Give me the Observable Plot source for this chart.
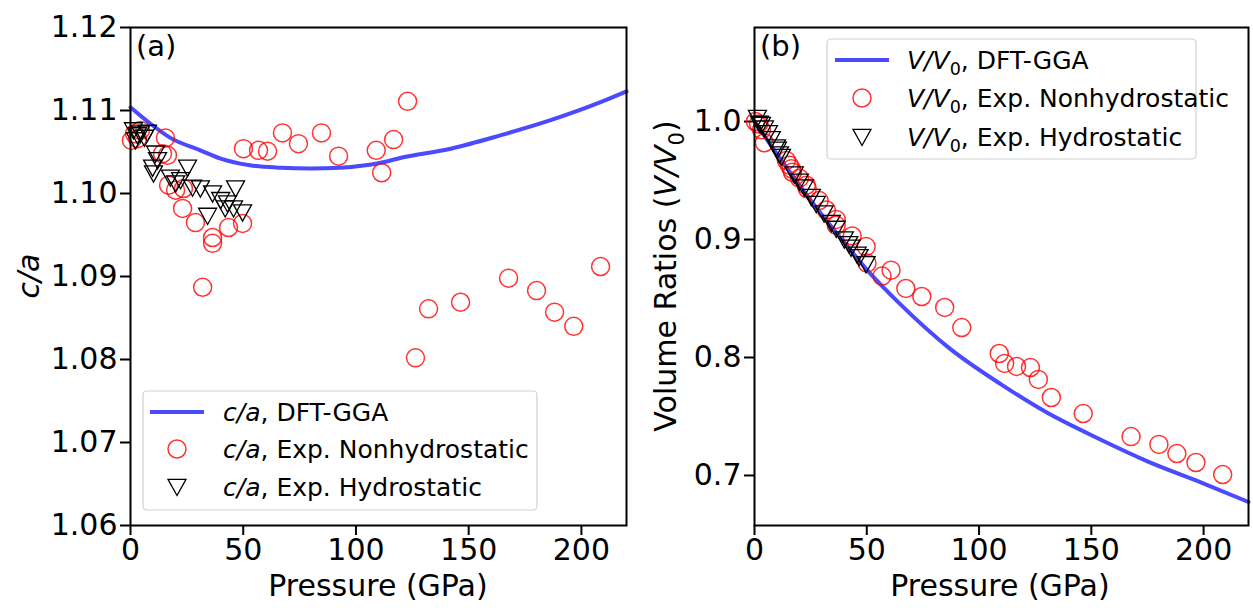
<!DOCTYPE html>
<html>
<head>
<meta charset="utf-8">
<script src="https://cdn.jsdelivr.net/npm/d3@7"></script>
<script src="https://cdn.jsdelivr.net/npm/@observablehq/plot@0.6"></script>
<style>
  html, body { margin: 0; padding: 0; background: #fff; }
  #wrap { display: flex; width: 1253px; height: 608px; font-family: "DejaVu Sans", sans-serif; }
  svg { font-family: "DejaVu Sans", sans-serif; }
</style>
</head>
<body>
<div id="wrap"></div>
<script>
// ---------- data ----------
// DFT-GGA c/a curve
const dftCaP = [0, 8.9, 17.7, 31, 40, 53, 66.5, 80, 93, 111, 120, 142, 164, 186, 208.5, 220];
const dftCa  = [1.1104, 1.1084, 1.1067, 1.1052, 1.1042, 1.1034, 1.1031, 1.1030, 1.1031, 1.1037, 1.1043, 1.1054, 1.1070, 1.1088, 1.1110, 1.1123];
// DFT-GGA V/V0 curve
const dftVP = [0, 10, 20, 30, 40, 50, 65, 87, 110, 130, 154, 175, 199, 220];
const dftV  = [1.0, 0.9725, 0.946, 0.921, 0.8975, 0.8745, 0.845, 0.8075, 0.777, 0.7535, 0.7305, 0.712, 0.694, 0.6775];
// Experimental, nonhydrostatic
const nonhydroP  = [0.4, 1.8, 3.1, 4.4, 14.2, 15.5, 16.4, 16.9, 20, 23.1, 23.5, 28.8, 32, 36.4, 36.4, 43.5, 49.7, 50.1, 56.8, 60.8, 67.4, 74.5, 84.7, 92.3, 109, 111.4, 116.7, 122.9, 126.4, 132.2, 146.4, 167.7, 180.1, 188.1, 196.6, 208.5];
const nonhydroCa = [1.1064, 1.1072, 1.1066, 1.1076, 1.1048, 1.1067, 1.1046, 1.1010, 1.1004, 1.0982, 1.1006, 1.0965, 1.0887, 1.0947, 1.0940, 1.0959, 1.0964, 1.1054, 1.1052, 1.1051, 1.1073, 1.1060, 1.1073, 1.1045, 1.1052, 1.1025, 1.1065, 1.1111, 1.0802, 1.0861, 1.0869, 1.0898, 1.0883, 1.0857, 1.0840, 1.0912];
const nonhydroV  = [1.0, 0.998, 0.993, 0.982, 0.967, 0.963, 0.960, 0.957, 0.952, 0.946, 0.943, 0.933, 0.925, 0.917, 0.912, 0.903, 0.894, 0.880, 0.869, 0.874, 0.8585, 0.8517, 0.8424, 0.8254, 0.8034, 0.795, 0.7924, 0.7915, 0.7814, 0.7661, 0.7525, 0.733, 0.7263, 0.7186, 0.711, 0.7008];
// Experimental, hydrostatic
const hydroP  = [1.3, 2.2, 3.1, 4.4, 6.2, 7.5, 9.8, 10.2, 11.1, 12, 17.7, 20, 22.2, 25.3, 27.5, 31, 34.2, 36.4, 40, 42, 43, 45.7, 46.6, 49.7];
const hydroCa = [1.1076, 1.1064, 1.1070, 1.1072, 1.1067, 1.1073, 1.1031, 1.1024, 1.1048, 1.1040, 1.1019, 1.1012, 1.1016, 1.1031, 1.1007, 1.1006, 1.0973, 1.1000, 1.0992, 1.0982, 1.0988, 1.0982, 1.1006, 1.0977];
const hydroV  = [1.003, 0.998, 0.997, 0.994, 0.990, 0.985, 0.978, 0.976, 0.972, 0.970, 0.955, 0.949, 0.944, 0.936, 0.930, 0.922, 0.914, 0.909, 0.900, 0.896, 0.893, 0.887, 0.885, 0.879];
// tick labels
const xTicks = [0, 50, 100, 150, 200];
const caTicks = [1.06, 1.07, 1.08, 1.09, 1.10, 1.11, 1.12];
const vTicks = [0.7, 0.8, 0.9, 1.0];

// ---------- styles ----------
const BLUE = "#4a4aff", RED = "#ff0000";
const FONT = "DejaVu Sans";
const TICKFS = 30, LABELFS = 30, LEGFS = 25;
const triDown = {
  draw(ctx, size) {
    const r = Math.sqrt(size / Math.PI);
    ctx.moveTo(-r, -r * 0.85);
    ctx.lineTo(r, -r * 0.85);
    ctx.lineTo(0, r * 0.95);
    ctx.closePath();
  }
};

function zip(xs, ys) { return xs.map((x, i) => ({x, y: ys[i]})); }

function makePanel({width, marginLeft, marginRight, yDomain, yTicks, yFormat, line, nh, h}) {
  return Plot.plot({
    width, height: 608,
    marginTop: 27, marginBottom: 83, marginLeft, marginRight,
    style: {fontFamily: FONT, fontSize: TICKFS + "px", color: "#000", background: "#fff", overflow: "visible"},
    x: {domain: [0, 220], ticks: xTicks, tickSize: 10, tickPadding: 3, label: null},
    y: {domain: yDomain, ticks: yTicks, tickFormat: yFormat, tickSize: 10, tickPadding: 3, label: null},
    marks: [
      Plot.line(line, {x: "x", y: "y", stroke: BLUE, strokeWidth: 4, curve: "monotone-x"}),
      Plot.dot(nh, {x: "x", y: "y", r: 9, stroke: RED, strokeOpacity: 0.8, strokeWidth: 1.5, fill: "none"}),
      Plot.dot(h, {x: "x", y: "y", r: 9, symbol: triDown, stroke: "#000", strokeWidth: 1.3, fill: "none"}),
      Plot.frame({stroke: "#000", strokeWidth: 2})
    ]
  });
}

const wrap = document.getElementById("wrap");

const plotA = makePanel({
  width: 640, marginLeft: 130, marginRight: 14,
  yDomain: [1.06, 1.12], yTicks: caTicks, yFormat: d3.format(".2f"),
  line: zip(dftCaP, dftCa), nh: zip(nonhydroP, nonhydroCa), h: zip(hydroP, hydroCa)
});
const plotB = makePanel({
  width: 613, marginLeft: 114, marginRight: 5,
  yDomain: [0.6576, 1.0797], yTicks: vTicks, yFormat: d3.format(".1f"),
  line: zip(dftVP, dftV), nh: zip(nonhydroP, nonhydroV), h: zip(hydroP, hydroV)
});
wrap.appendChild(plotA);
wrap.appendChild(plotB);

// thicken tick marks
for (const p of [plotA, plotB]) {
  const s = d3.select(p);
  s.selectAll('[aria-label*="tick"] path, [aria-label*="tick"] line, [aria-label*="axis"] line, [aria-label*="axis"] path')
    .attr("stroke-width", 2).attr("stroke", "#000");
  s.selectAll('[aria-label*="axis"] text, [aria-label*="tick label"] text').attr("fill", "#000");
}

function addText(svg, x, y, parts, opts = {}) {
  const fs = opts.size || LABELFS;
  const t = svg.append("text").attr("x", x).attr("y", y)
    .attr("font-family", FONT).attr("font-size", fs).attr("fill", "#000")
    .attr("text-anchor", opts.anchor || "start");
  if (opts.rotate) t.attr("transform", `rotate(-90 ${x} ${y})`);
  for (const p of parts) {
    const ts = t.append("tspan").text(p.t);
    if (p.i) ts.attr("font-style", "italic");
    if (p.sub) ts.attr("font-size", fs * 0.7).attr("dy", fs * 0.25);
    if (p.unsub) ts.attr("dy", -fs * 0.25);
  }
  return t;
}

function legend(svg, x0, y0, w, h, rows, mx, tx, fs) {
  svg.append("rect").attr("x", x0).attr("y", y0).attr("width", w).attr("height", h)
    .attr("rx", 4).attr("fill", "#fff").attr("fill-opacity", 0.8)
    .attr("stroke", "#d0d0d0").attr("stroke-width", 1.2);
  rows.forEach((r) => {
    const cy = r.y;
    if (r.kind === "line") {
      svg.append("line").attr("x1", mx - 27).attr("x2", mx + 27).attr("y1", cy).attr("y2", cy)
        .attr("stroke", BLUE).attr("stroke-width", 4);
    } else if (r.kind === "circle") {
      svg.append("circle").attr("cx", mx).attr("cy", cy).attr("r", 9)
        .attr("fill", "none").attr("stroke", RED).attr("stroke-opacity", 0.8).attr("stroke-width", 1.5);
    } else {
      svg.append("path").attr("d", `M${mx-9},${cy-7.6}L${mx+9},${cy-7.6}L${mx},${cy+8.5}Z`)
        .attr("fill", "none").attr("stroke", "#000").attr("stroke-width", 1.3);
    }
    addText(svg, tx, cy + fs * 0.36, r.parts, {size: fs});
  });
}

// Panel (a) annotations
{
  const s = d3.select(plotA);
  addText(s, 136, 56, [{t: "(a)"}], {size: 29});
  addText(s, 378, 596, [{t: "Pressure (GPa)"}], {size: LABELFS, anchor: "middle"});
  addText(s, 39, 276, [{t: "c/a", i: true}], {size: LABELFS, anchor: "middle", rotate: true});
  legend(s, 143, 391, 394, 119, [
    {kind: "line", y: 412, parts: [{t: "c/a", i: true}, {t: ", DFT-GGA"}]},
    {kind: "circle", y: 449, parts: [{t: "c/a", i: true}, {t: ", Exp. Nonhydrostatic"}]},
    {kind: "tri", y: 487, parts: [{t: "c/a", i: true}, {t: ", Exp. Hydrostatic"}]}
  ], 177, 223, LEGFS);
}
// Panel (b) annotations
{
  const s = d3.select(plotB);
  addText(s, 120, 56, [{t: "(b)"}], {size: 29});
  addText(s, 360, 596, [{t: "Pressure (GPa)"}], {size: LABELFS, anchor: "middle"});
  addText(s, 36, 276, [{t: "Volume Ratios ("}, {t: "V/V", i: true}, {t: "0", sub: true}, {t: ")", unsub: true}], {size: LABELFS, anchor: "middle", rotate: true});
  legend(s, 187, 39, 369, 120, [
    {kind: "line", y: 60, parts: [{t: "V/V", i: true}, {t: "0", sub: true}, {t: ", DFT-GGA", unsub: true}]},
    {kind: "circle", y: 98, parts: [{t: "V/V", i: true}, {t: "0", sub: true}, {t: ", Exp. Nonhydrostatic", unsub: true}]},
    {kind: "tri", y: 137, parts: [{t: "V/V", i: true}, {t: "0", sub: true}, {t: ", Exp. Hydrostatic", unsub: true}]}
  ], 222, 267, LEGFS);
}
</script>
</body>
</html>
